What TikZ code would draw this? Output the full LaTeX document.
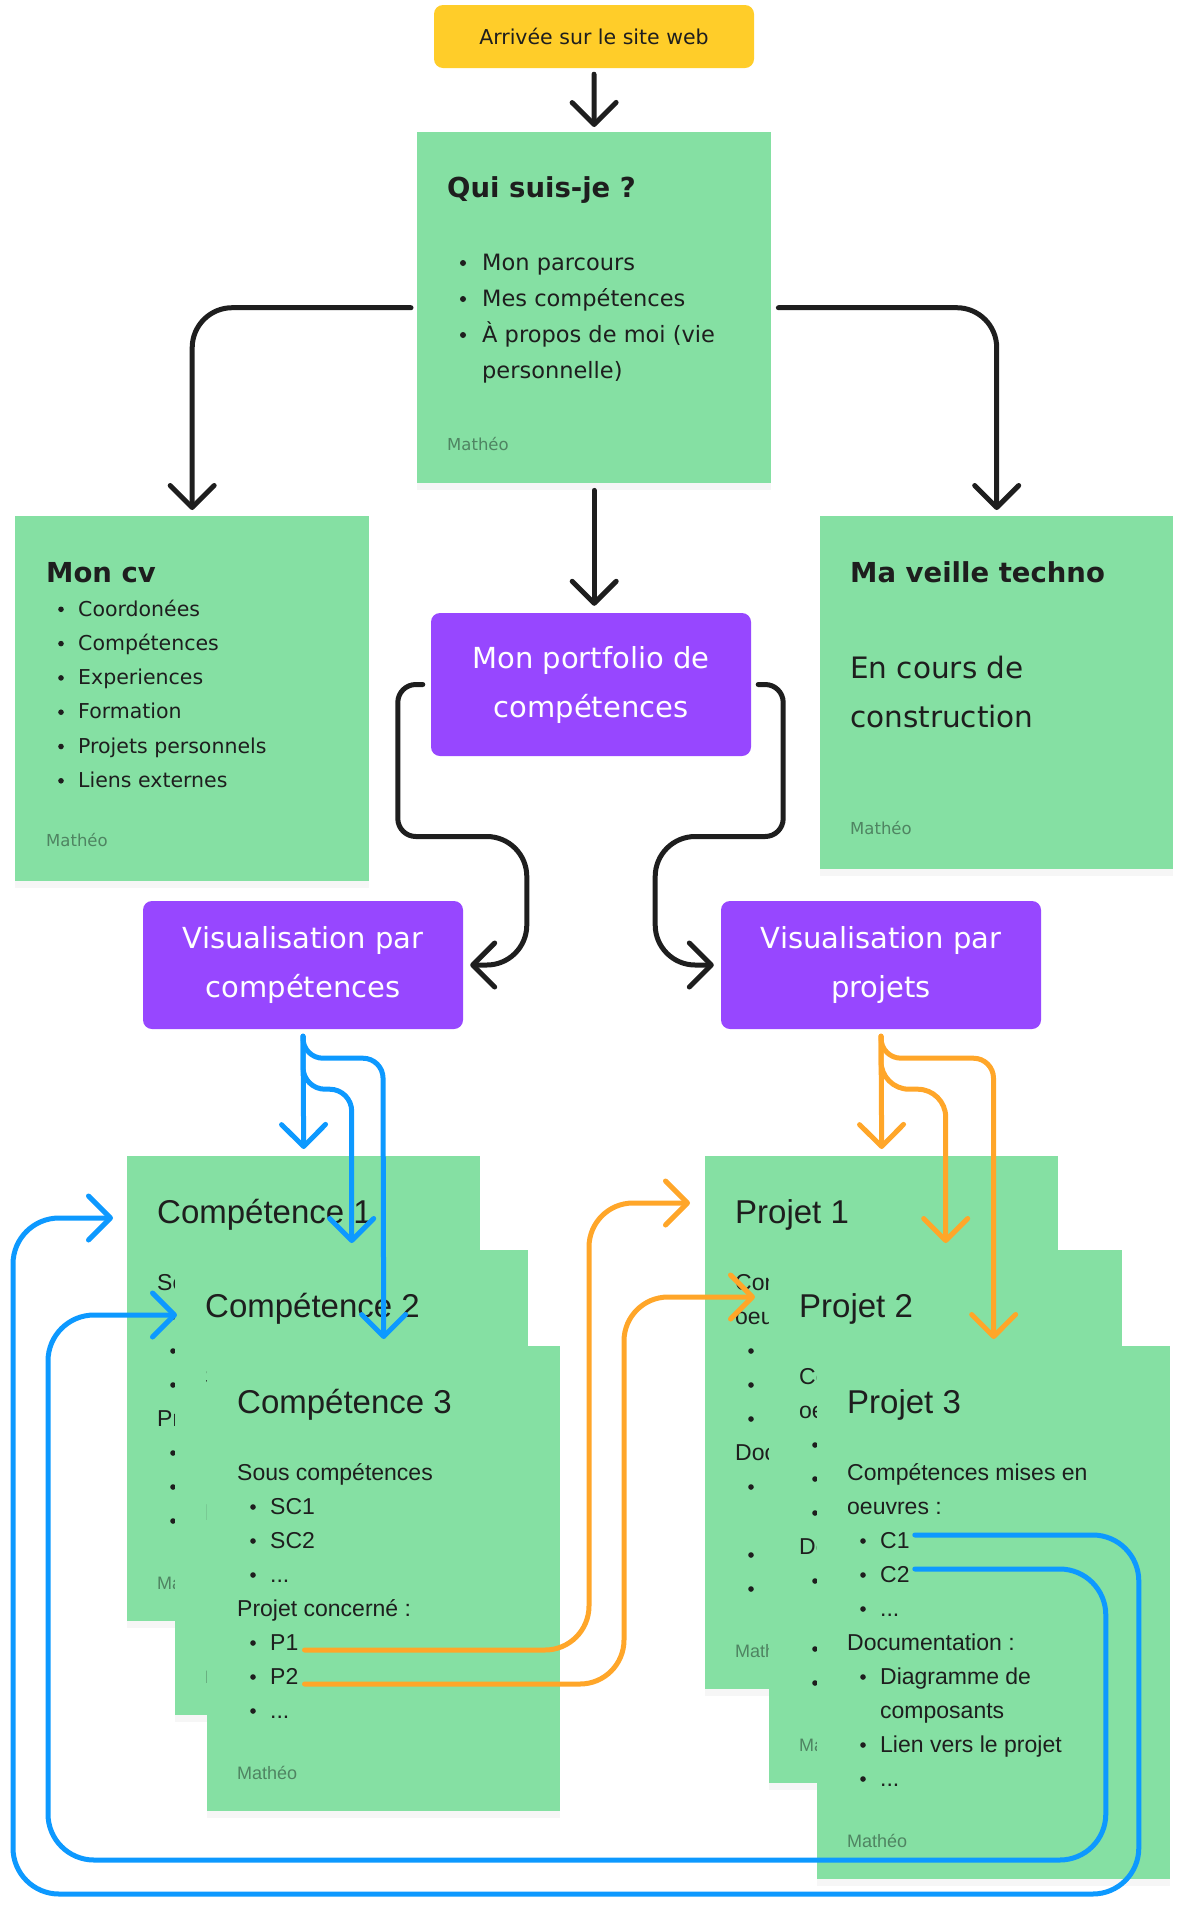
\documentclass[tikz,border=0pt]{standalone}
\usepackage{fontspec}
\setmainfont{DejaVu Sans}
\newfontfamily\cardfont{Liberation Sans}
\usetikzlibrary{arrows.meta,shadows}

\definecolor{stickygreen}{HTML}{85E0A3}
\definecolor{boxpurple}{HTML}{9747FF}
\definecolor{boxyellow}{HTML}{FFCD29}
\definecolor{linkblue}{HTML}{0D99FF}
\definecolor{linkorange}{HTML}{FFA629}
\definecolor{inkblack}{HTML}{1E1E1E}
\definecolor{authorgray}{HTML}{4F8462}

\newcommand{\sz}[1]{\fontsize{#1}{#1}\selectfont}
\newcommand{\etc}{...}

% carte : nom, x, y, hauteur, titre, largeur visible, lignes (dx/dy/puce/texte)
\newcommand{\card}[7]{%
  \node[sticky, minimum width=353pt, minimum height=#4pt] (#1) at (#2,#3) {};
  \node[cardhead] (#1-t) at (#2+30,#3+67) {#5};
  \begin{scope}
    \clip (#2,#3+80) rectangle (#2+#6,#3+#4);
    \foreach \dx/\dy/\b/\t [count=\i] in {#7}{
      \ifnum\b=2
        \node[signature, font=\cardfont\sz{18}] (#1-\i) at (#2+\dx,#3+\dy) {\t};
      \else
        \node[txt, font=\cardfont\sz{23}] (#1-\i) at (#2+\dx,#3+\dy) {\t};
      \fi
      \ifnum\b=1 \fill[inkblack] (#2+46,#3+\dy-7) circle (2.8pt);\fi
    }
  \end{scope}
}

\begin{document}
\begin{tikzpicture}[x=1pt, y=-1pt, line cap=round, line join=round,
  sticky/.style={fill=stickygreen, anchor=north west, inner sep=0pt,
    drop shadow={shadow xshift=0pt, shadow yshift=-7pt, opacity=.07}},
  tagbox/.style={fill=boxpurple, rounded corners=9pt, text=white, align=center,
    font=\fontsize{29}{49}\selectfont, minimum width=320pt, inner sep=0pt},
  txt/.style={anchor=base west, inner sep=0pt, text=inkblack},
  bighead/.style={txt, font=\bfseries\sz{27.5}},
  cardhead/.style={txt, font=\cardfont\sz{33}},
  signature/.style={anchor=base west, inner sep=0pt, text=authorgray},
  conn/.style={line width=5pt, -{Straight Barb[length=22pt,width=44pt,round]}},
]
\useasboundingbox (0,0) rectangle (1187,1920);

% haut
\node[fill=boxyellow, rounded corners=9pt, minimum width=320pt, minimum height=63pt, inner sep=0pt, text=inkblack, font=\sz{20.5}] (arrivee) at (594,36.5) {Arrivée sur le site web};

\node[sticky, minimum width=354pt, minimum height=351pt] (qui) at (417,132) {};
\node[bighead] (qui-t) at (447,197) {Qui suis-je ?};
\foreach \t [count=\i] in {Mon parcours, Mes compétences, À propos de moi (vie}{
  \node[txt, font=\sz{22.5}] (qui-\i) at (482,234+36*\i) {\t};
  \fill[inkblack] (463,227+36*\i) circle (3pt);
}
\node[txt, font=\sz{22.5}] (qui-4) at (482,378) {personnelle)};
\node[signature, font=\sz{16.5}] (qui-a) at (447,450) {Mathéo};

\node[sticky, minimum width=354pt, minimum height=365pt] (cv) at (15,516) {};
\node[bighead] (cv-t) at (46,582) {Mon cv};
\foreach \t [count=\i] in {Coordonées, Compétences, Experiences, Formation, Projets personnels, Liens externes}{
  \node[txt, font=\sz{20.5}] (cv-\i) at (78,581.7+34.3*\i) {\t};
  \fill[inkblack] (61,575+34.3*\i) circle (2.8pt);
}
\node[signature, font=\sz{16.5}] (cv-a) at (46,846) {Mathéo};

\node[sticky, minimum width=353pt, minimum height=353pt] (veille) at (820,516) {};
\node[bighead] (veille-t) at (850,582) {Ma veille techno};
\node[txt, font=\sz{29.5}] (veille-1) at (850,678) {En cours de};
\node[txt, font=\sz{29.5}] (veille-2) at (850,727) {construction};
\node[signature, font=\sz{16.5}] (veille-a) at (850,834) {Mathéo};

\node[tagbox, minimum height=143pt] (port) at (591,684.5) {Mon portfolio de\\compétences};
\node[tagbox, minimum height=128pt] (viscomp) at (303,965) {Visualisation par\\compétences};
\node[tagbox, minimum height=128pt] (visproj) at (881,965) {Visualisation par\\projets};

\draw[conn, inkblack] ([yshift=-6pt]arrivee.south) -- ([yshift=5pt]qui.north);
\draw[conn, inkblack, rounded corners=40pt] ([xshift=-6pt]qui.west) -| ([yshift=6pt]cv.north);
\draw[conn, inkblack, rounded corners=40pt] ([xshift=7pt]qui.east) -| ([yshift=6pt]veille.north);
\draw[conn, inkblack] ([yshift=-7pt]qui.south) -- ([yshift=7pt]qui.south |- port.north);
\draw[conn, inkblack] ([xshift=-8pt]port.west) [rounded corners=18pt] -- ++(-25,0) -- ++(0,152) [rounded corners=40pt] -- ++(129,0) |- ([xshift=7pt]viscomp.east);
\draw[conn, inkblack] ([xshift=7pt]port.east) [rounded corners=18pt] -- ++(25,0) -- ++(0,152) [rounded corners=40pt] -- ++(-128,0) |- ([xshift=-7pt]visproj.west);

% cartes competences
\card{c1}{127}{1156}{465}{Compétence 1}{48}{30/134/0/So, 63/168/1/{}, 63/202/1/{}, 63/236/1/{}, 30/270/0/Pr, 63/304/1/{}, 63/338/1/{}, 63/372/1/{}, 30/433/2/Ma}
\card{c2}{175}{1250}{465}{Compétence 2}{32}{30/134/0/S, 30/270/0/P, 30/433/2/M}
\card{c3}{207}{1346}{465}{Compétence 3}{353}{30/134/0/Sous compétences, 63/168/1/SC1, 63/202/1/SC2, 63/236/1/\etc, 30/270/0/Projet concerné :, 63/304/1/P1, 63/338/1/P2, 63/372/1/\etc, 30/433/2/Mathéo}

% cartes projets
\card{p1}{705}{1156}{533}{Projet 1}{64}{30/134/0/Com, 30/168/0/oeu, 63/202/1/{}, 63/236/1/{}, 63/270/1/{}, 30/304/0/Doc, 63/338/1/{}, 63/406/1/{}, 63/440/1/{}, 30/501/2/Math}
\card{p2}{769}{1250}{533}{Projet 2}{48}{30/134/0/Co, 30/168/0/oe, 63/202/1/{}, 63/236/1/{}, 63/270/1/{}, 30/304/0/Do, 63/338/1/{}, 63/406/1/{}, 63/440/1/{}, 30/501/2/Ma}
\card{p3}{817}{1346}{533}{Projet 3}{353}{30/134/0/Compétences mises en, 30/168/0/oeuvres :, 63/202/1/C1, 63/236/1/C2, 63/270/1/\etc, 30/304/0/Documentation :, 63/338/1/Diagramme de, 63/372/0/composants, 63/406/1/Lien vers le projet, 63/440/1/\etc, 30/501/2/Mathéo}

\coordinate (bin1) at (113,1218);
\coordinate (bin2) at (177,1315);
\coordinate (oin1) at (690,1203);
\coordinate (oin2) at (755,1297);

% fleches bleues
\draw[conn, linkblue] ([yshift=-7pt]viscomp.south) -- ([yshift=7pt]c1.north);
\draw[conn, linkblue, rounded corners=22pt] ([yshift=-7pt]viscomp.south) -- ++(0,53) -| ([yshift=7pt]c2.north);
\draw[conn, linkblue] ([yshift=-7pt]viscomp.south) [rounded corners=20pt] -- ++(0,22) -- ++(80,0) [rounded corners=34pt] -- ([yshift=7pt]c3.north);
\draw[conn, linkblue, rounded corners=46pt] ([xshift=5pt,yshift=13pt]p3-3.base east) -- ++(224,0) -- ++(0,359) -| ([xshift=-100pt]bin1) -- (bin1);
\draw[conn, linkblue, rounded corners=46pt] ([xshift=5pt,yshift=13pt]p3-4.base east) -- ++(191,0) -- ++(0,291) -| ([xshift=-129pt]bin2) -- (bin2);

% fleches orange
\draw[conn, linkorange] ([yshift=-7pt]visproj.south) -- ([yshift=7pt]p1.north);
\draw[conn, linkorange, rounded corners=28pt] ([yshift=-7pt]visproj.south) -- ++(0,53) -| ([yshift=7pt]p2.north);
\draw[conn, linkorange] ([yshift=-7pt]visproj.south) [rounded corners=20pt] -- ++(0,22) -- ++(112.5,0) [rounded corners=40pt] -- ([yshift=7pt]p3.north);
\draw[conn, linkorange, rounded corners=44pt] ([xshift=6pt]c3-6.base east) -| ([xshift=-101pt]oin1) -- (oin1);
\draw[conn, linkorange, rounded corners=44pt] ([xshift=6pt]c3-7.base east) -| ([xshift=-131pt]oin2) -- (oin2);
\end{tikzpicture}
\end{document}
